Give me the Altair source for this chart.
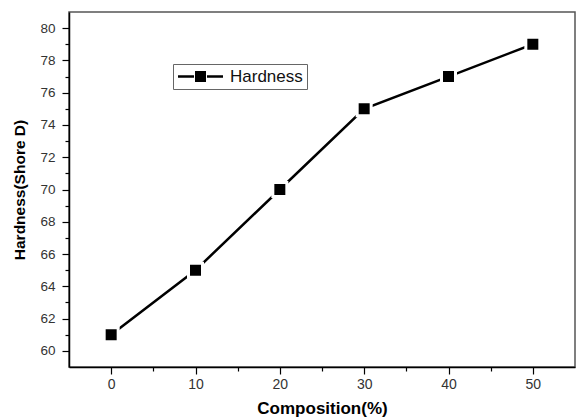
import altair as alt
import pandas as pd

# Hardness of the blend at each composition
composition = [0, 10, 20, 30, 40, 50]
hardness = [61, 65, 70, 75, 77, 79]
series = ["Hardness"] * len(composition)

x_ticks = list(range(0, 55, 5))
y_ticks = list(range(60, 81, 1))

df = pd.DataFrame({"composition": composition, "hardness": hardness, "series": series})

FONT = "Liberation Sans"

x_enc = alt.X(
    "composition:Q",
    scale=alt.Scale(domain=[-5, 55], nice=False, zero=False),
    axis=alt.Axis(
        title="Composition(%)",
        values=x_ticks,
        labelExpr="datum.value % 10 === 0 ? datum.label : ''",
        tickSize={"condition": {"test": "datum.value % 10 === 0", "value": 7}, "value": 4},
        grid=False,
    ),
)
y_enc = alt.Y(
    "hardness:Q",
    scale=alt.Scale(domain=[59, 81], nice=False, zero=False),
    axis=alt.Axis(
        title="Hardness(Shore D)",
        values=y_ticks,
        labelExpr="datum.value % 2 === 0 ? datum.label : ''",
        tickSize={"condition": {"test": "datum.value % 2 === 0", "value": 7}, "value": 4},
        grid=False,
    ),
)

base = alt.Chart(df)

line = base.mark_line(color="black", strokeWidth=2.5).encode(x=x_enc, y=y_enc)

# line-square-line legend glyph, drawn to the right of a 15px symbol box
glyph = (
    "M-1,-0.167 H1.133 V0.167 H-1 Z "
    "M1.267,-0.733 H2.733 V0.733 H1.267 Z "
    "M2.867,-0.167 H5 V0.167 H2.867 Z"
)

points = base.mark_point(
    shape="square", filled=True, size=196, opacity=1, stroke="white", strokeWidth=3
).encode(
    x=x_enc,
    y=y_enc,
    color=alt.Color(
        "series:N",
        scale=alt.Scale(range=["black"]),
        legend=alt.Legend(
            title=None,
            orient="none",
            legendX=104,
            legendY=52,
            symbolType=glyph,
            symbolSize=225,
            symbolStrokeWidth=0,
            symbolFillColor="black",
            strokeColor="#666666",
            fillColor="white",
            padding=4,
            labelFontSize=17,
            labelFont=FONT,
            labelColor="#111111",
            labelOffset=36,
        ),
    ),
)

chart = (
    alt.layer(line, points)
    .properties(
        width=506,
        height=355,
        autosize=alt.AutoSizeParams(type="none"),
        padding={"left": 69, "top": 12, "right": 1, "bottom": 51},
        background="white",
    )
    .configure_view(stroke="#555555", strokeWidth=1.5)
    .configure_axis(
        domainColor="black",
        domainWidth=1.5,
        tickColor="black",
        tickWidth=1.2,
        labelFont=FONT,
        labelColor="#333333",
        titleFont=FONT,
        titleFontWeight="bold",
        titleColor="black",
    )
    .configure_axisX(labelFontSize=14, labelPadding=3, titleFontSize=17, titlePadding=9)
    .configure_axisY(labelFontSize=13.5, labelPadding=7, titleFontSize=15.5, titlePadding=12)
)

chart.save("out.html", embed_options={"renderer": "svg", "actions": False})
